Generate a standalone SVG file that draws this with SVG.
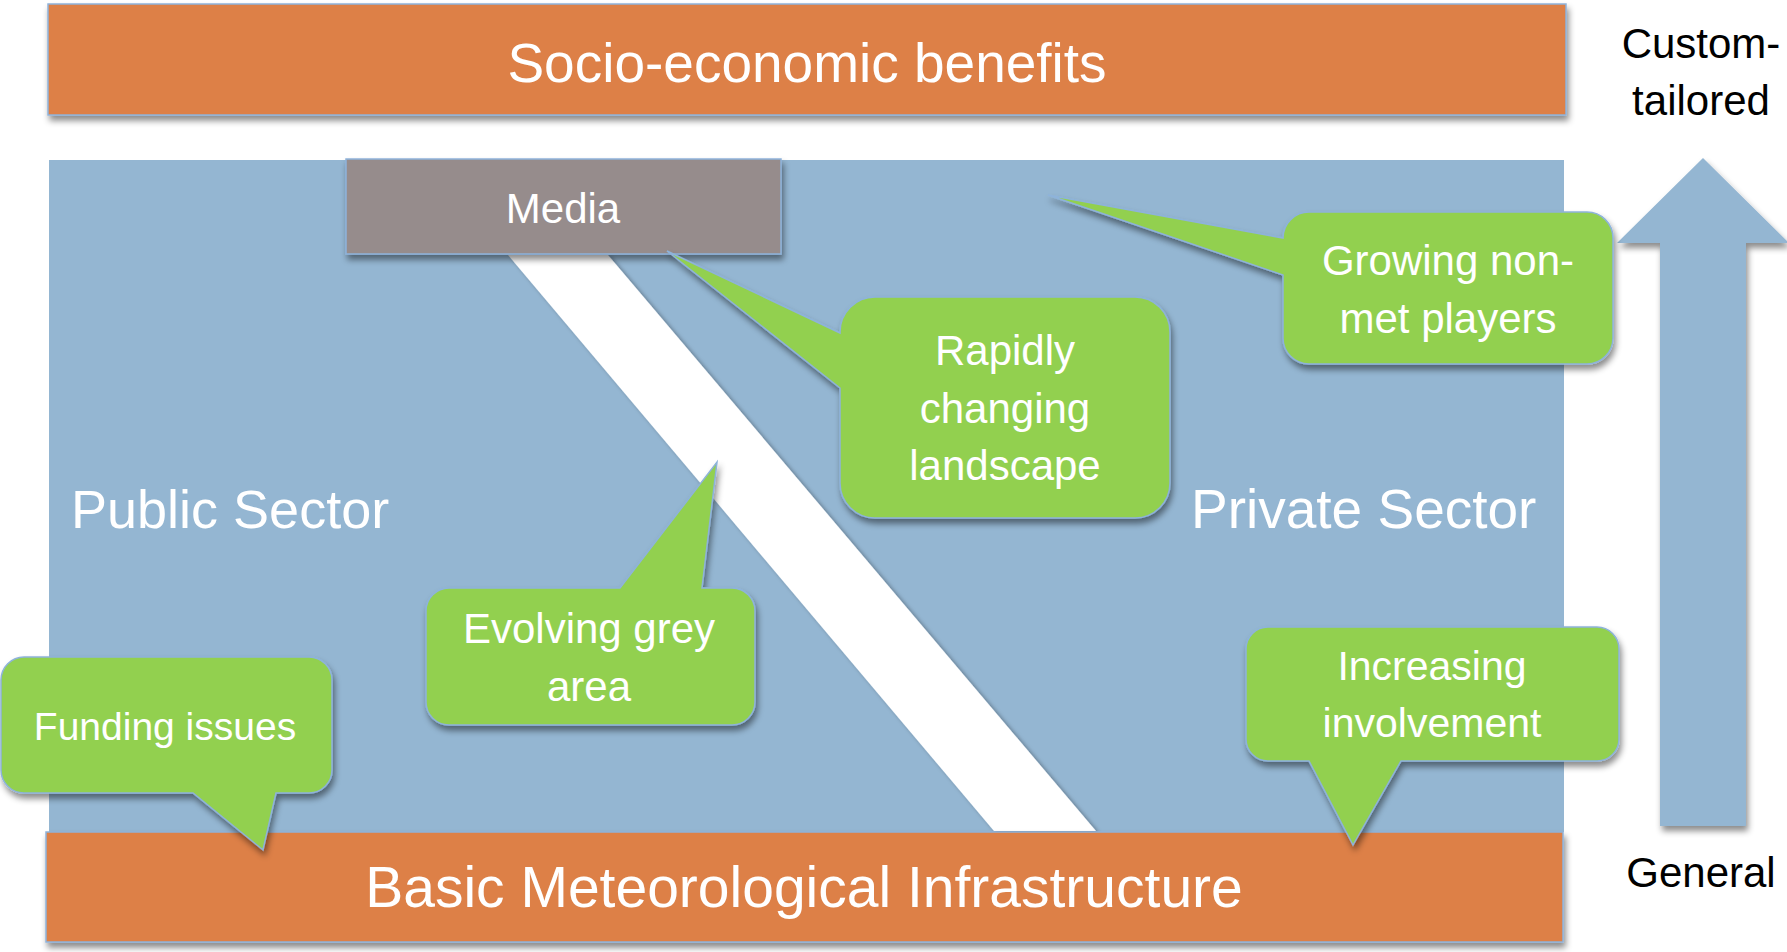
<svg xmlns="http://www.w3.org/2000/svg" width="1787" height="952" viewBox="0 0 1787 952">
<defs>
<filter id="sh" x="-10%" y="-10%" width="120%" height="130%">
<feDropShadow dx="2" dy="5" stdDeviation="3" flood-color="#000" flood-opacity="0.45"/>
</filter>
<filter id="shs" x="-10%" y="-10%" width="120%" height="120%">
<feDropShadow dx="3" dy="2" stdDeviation="2" flood-color="#000" flood-opacity="0.35"/>
</filter>
</defs>
<style>
.bar{fill:#DD8047;stroke:#8EB3DA;stroke-width:1.5}
.call{fill:#92D050;stroke:#8EB3DA;stroke-width:1.5}
.t{font-family:"Liberation Sans",Arial,sans-serif;fill:#fff;text-anchor:middle}
.k{font-family:"Liberation Sans",Arial,sans-serif;fill:#000;text-anchor:middle;font-size:42px}
</style>
<rect width="1787" height="952" fill="#fff"/>
<g id="sectors">
<rect x="49" y="160" width="1515" height="672" fill="#94B6D2"/>
<polygon points="508,255 608,255 1096,831 994,831" fill="#fff" filter="url(#shs)"/>
<text class="t" x="71" y="528" font-size="54" text-anchor="start" style="text-anchor:start">Public Sector</text>
<text class="t" x="1191" y="528" font-size="55" style="text-anchor:start">Private Sector</text>
</g>
<g id="socio">
<rect class="bar" x="48" y="4" width="1518" height="111" filter="url(#sh)"/>
<text class="t" x="807" y="82" font-size="55">Socio-economic benefits</text>
</g>
<g id="basic">
<rect class="bar" x="46" y="832" width="1517" height="110" filter="url(#sh)"/>
<text class="t" x="804" y="907" font-size="57">Basic Meteorological Infrastructure</text>
</g>
<g id="media">
<rect x="346" y="159" width="435" height="95" fill="#968C8C" stroke="#8EB3DA" stroke-width="1.5" filter="url(#sh)"/>
<text class="t" x="563" y="223" font-size="42">Media</text>
</g>
<g id="scale">
<polygon points="1703,158 1789,243 1746,243 1746,826 1660,826 1660,243 1617,243" fill="#94B6D2" filter="url(#sh)"/>
<text class="k" x="1701" y="58">Custom-</text>
<text class="k" x="1701" y="115">tailored</text>
<text class="k" x="1701" y="887">General</text>
</g>
<g id="connectors"></g>
<g id="rapidly">
<path class="call" filter="url(#sh)" d="M875,297 H1135 A35,35 0 0 1 1170,332 V483 A35,35 0 0 1 1135,518 H875 A35,35 0 0 1 840,483 V388 L667,251 L840,333 V332 A35,35 0 0 1 875,297 Z"/>
<text class="t" x="1005" y="365" font-size="42">Rapidly</text>
<text class="t" x="1005" y="423" font-size="42">changing</text>
<text class="t" x="1005" y="480" font-size="42">landscape</text>
</g>
<g id="growing">
<path class="call" filter="url(#sh)" d="M1309,212 H1587 A26,26 0 0 1 1613,238 V338 A26,26 0 0 1 1587,364 H1309 A26,26 0 0 1 1283,338 V275 L1048,195 L1283,238 A26,26 0 0 1 1309,212 Z"/>
<text class="t" x="1448" y="275" font-size="42">Growing non-</text>
<text class="t" x="1448" y="333" font-size="42">met players</text>
</g>
<g id="evolving">
<path class="call" filter="url(#sh)" d="M449,588 H620 L717,462 L702,588 H732 A23,23 0 0 1 755,611 V702 A23,23 0 0 1 732,725 H449 A23,23 0 0 1 426,702 V611 A23,23 0 0 1 449,588 Z"/>
<text class="t" x="589" y="643" font-size="42">Evolving grey</text>
<text class="t" x="589" y="701" font-size="42">area</text>
</g>
<g id="funding">
<path class="call" filter="url(#sh)" d="M24,657 H309 A23,23 0 0 1 332,680 V770 A23,23 0 0 1 309,793 H276 L263,850 L193,793 H24 A23,23 0 0 1 1,770 V680 A23,23 0 0 1 24,657 Z"/>
<text class="t" x="165" y="740" font-size="39">Funding issues</text>
</g>
<g id="increasing">
<path class="call" filter="url(#sh)" d="M1268,627 H1597 A22,22 0 0 1 1619,649 V739 A22,22 0 0 1 1597,761 H1401 L1353,845 L1309,761 H1268 A22,22 0 0 1 1246,739 V649 A22,22 0 0 1 1268,627 Z"/>
<text class="t" x="1432" y="680" font-size="41">Increasing</text>
<text class="t" x="1432" y="737" font-size="41">involvement</text>
</g>
</svg>
